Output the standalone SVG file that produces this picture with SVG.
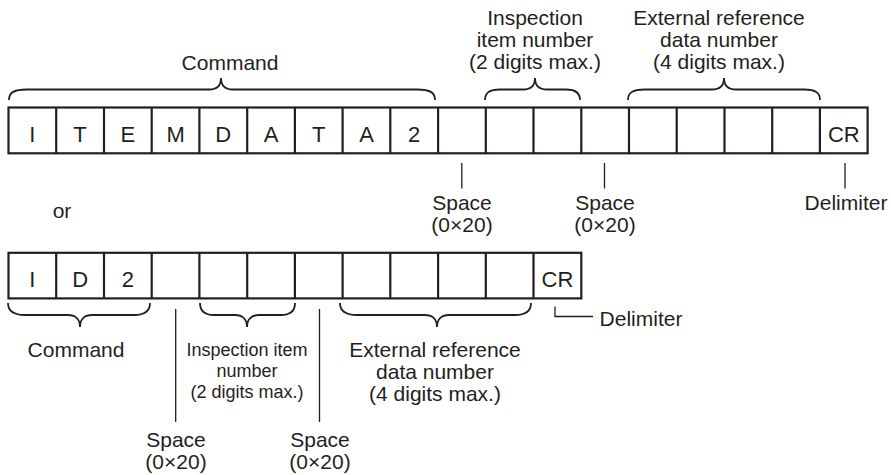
<svg xmlns="http://www.w3.org/2000/svg" width="891" height="475" viewBox="0 0 891 475">
<style>
.t{font-family:"Liberation Sans",Arial,sans-serif;font-size:21px;fill:#231f20;text-anchor:middle}
.s{font-size:18px}
.c{font-family:"Liberation Sans",Arial,sans-serif;font-size:22px;fill:#231f20;text-anchor:middle}
.b{fill:none;stroke:#231f20;stroke-width:2.2}
.br{fill:none;stroke:#231f20;stroke-width:1.8}
.ln{fill:none;stroke:#231f20;stroke-width:1.3}
</style>
<rect width="891" height="475" fill="#fff"/>
<g id="row1">
<rect class="b" x="8.5" y="107.5" width="859.1" height="45.8"/>
<path class="b" d="M56.2 107.5V153.3M104 107.5V153.3M151.7 107.5V153.3M199.4 107.5V153.3M247.2 107.5V153.3M294.9 107.5V153.3M342.6 107.5V153.3M390.3 107.5V153.3M438.1 107.5V153.3M485.8 107.5V153.3M533.5 107.5V153.3M581.3 107.5V153.3M629 107.5V153.3M676.7 107.5V153.3M724.5 107.5V153.3M772.2 107.5V153.3M819.9 107.5V153.3"/>
<text class="c" x="32.4" y="141.5">I</text>
<text class="c" x="80.1" y="141.5">T</text>
<text class="c" x="127.8" y="141.5">E</text>
<text class="c" x="175.6" y="141.5">M</text>
<text class="c" x="223.3" y="141.5">D</text>
<text class="c" x="271" y="141.5">A</text>
<text class="c" x="318.7" y="141.5">T</text>
<text class="c" x="366.5" y="141.5">A</text>
<text class="c" x="414.2" y="141.5">2</text>
<text class="c" x="843.8" y="141.5">CR</text>
</g>
<g id="row2">
<rect class="b" x="8.5" y="252.8" width="572.8" height="45.6"/>
<path class="b" d="M56.2 252.8V298.4M104 252.8V298.4M151.7 252.8V298.4M199.4 252.8V298.4M247.2 252.8V298.4M294.9 252.8V298.4M342.6 252.8V298.4M390.3 252.8V298.4M438.1 252.8V298.4M485.8 252.8V298.4M533.5 252.8V298.4"/>
<text class="c" x="32.4" y="286.5">I</text>
<text class="c" x="80.1" y="286.5">D</text>
<text class="c" x="127.8" y="286.5">2</text>
<text class="c" x="557.4" y="286.5">CR</text>
</g>
<g id="connectors">
<path class="br" d="M9 100C9 93 13 89.5 27 89.5L209 89.5C216 89.5 221 86 221 78C221 86 226 89.5 233 89.5L417 89.5C431 89.5 435 93 435 100"/>
<path class="br" d="M485 100C485 93 489 89.5 500 89.5L523 89.5C530 89.5 535 86 535 78C535 86 540 89.5 547 89.5L566 89.5C576 89.5 580 93 580 100"/>
<path class="br" d="M628 100C628 93 632 89.5 645 89.5L712 89.5C719 89.5 724 86 724 78C724 86 729 89.5 736 89.5L804 89.5C816 89.5 820 93 820 100"/>
<path class="br" d="M8 303C8 310 12 315 25 315L68 315C75 315 80 319 80 327C80 319 85 315 92 315L134 315C146 315 150 310 150 303"/>
<path class="br" d="M200 303C200 310 204 315 214 315L235 315C242 315 247 319 247 327C247 319 252 315 259 315L281 315C291 315 295 310 295 303"/>
<path class="br" d="M340 303C340 310 344 315 357 315L425 315C432 315 437 319 437 327C437 319 442 315 449 315L515 315C527 315 531 310 531 303"/>
<path class="ln" d="M461.8 163V188.5M604.5 163V188.5M845 163V188.5M175.7 309V422M319.5 309V422M555 306.5V316.5H593"/>
</g>
<g id="labels">
<text class="t" x="230" y="70">Command</text>
<text class="t" x="535" y="25">Inspection</text>
<text class="t" x="535" y="47">item number</text>
<text class="t" x="535" y="69">(2 digits max.)</text>
<text class="t" x="719" y="25">External reference</text>
<text class="t" x="719" y="47">data number</text>
<text class="t" x="719" y="69">(4 digits max.)</text>
<text class="t" x="462" y="210">Space</text>
<text class="t" x="462" y="232">(0×20)</text>
<text class="t" x="605" y="210">Space</text>
<text class="t" x="605" y="232">(0×20)</text>
<text class="t" x="846" y="210">Delimiter</text>
<text class="t" x="62" y="218">or</text>
<text class="t" x="641" y="326">Delimiter</text>
<text class="t" x="76" y="357">Command</text>
<text class="t s" x="247" y="356">Inspection item</text>
<text class="t s" x="247" y="377">number</text>
<text class="t s" x="247" y="398">(2 digits max.)</text>
<text class="t" x="435" y="357">External reference</text>
<text class="t" x="435" y="379">data number</text>
<text class="t" x="435" y="401">(4 digits max.)</text>
<text class="t" x="176" y="447">Space</text>
<text class="t" x="176" y="469">(0×20)</text>
<text class="t" x="320" y="447">Space</text>
<text class="t" x="320" y="469">(0×20)</text>
</g>
</svg>
